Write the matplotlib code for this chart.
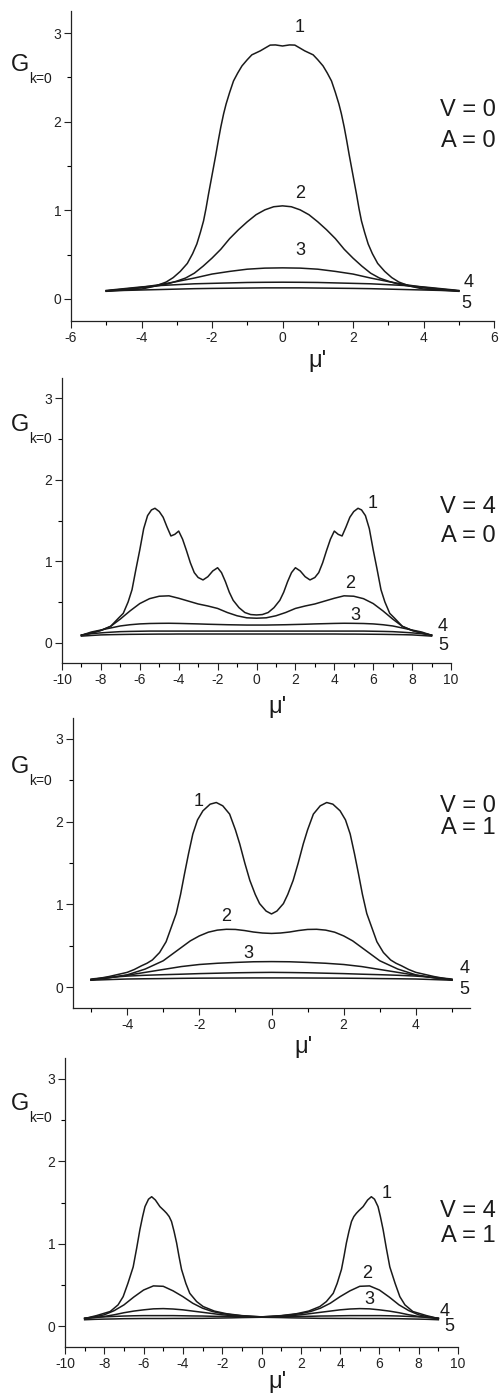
import numpy as np
import matplotlib
matplotlib.use("Agg")
import matplotlib.pyplot as plt
from matplotlib.ticker import MultipleLocator, FixedLocator

plt.rcParams['font.family'] = ['Liberation Sans', 'DejaVu Sans']

# ---- panel 1: V = 0, A = 0 ----
p1_x1 = [-5, -4.5, -4, -3.6, -3.3, -3.1, -2.9, -2.7, -2.55, -2.43, -2.33, -2.24, -2.17, -2.1, -2.03, -1.96,
         -1.89, -1.82, -1.75, -1.67, -1.6, -1.5, -1.39, -1.27, -1.15, -1.0, -0.87, -0.63, -0.48, -0.35, -0.2,
         0,
         0.2, 0.35, 0.48, 0.63, 0.87, 1.0, 1.15, 1.27, 1.39, 1.5, 1.6, 1.67, 1.75, 1.82, 1.89,
         1.96, 2.03, 2.1, 2.17, 2.24, 2.33, 2.43, 2.55, 2.7, 2.9, 3.1, 3.3, 3.6, 4, 4.5, 5]
p1_c1 = [0.09, 0.10, 0.11, 0.145, 0.19, 0.24, 0.31, 0.40, 0.51, 0.62, 0.75, 0.88, 1.02, 1.18, 1.33, 1.48,
         1.63, 1.79, 1.94, 2.09, 2.20, 2.33, 2.46, 2.55, 2.63, 2.70, 2.755, 2.80, 2.835, 2.865, 2.867,
         2.855,
         2.867, 2.865, 2.835, 2.80, 2.755, 2.70, 2.63, 2.55, 2.46, 2.33, 2.20, 2.09, 1.94, 1.79, 1.63,
         1.48, 1.33, 1.18, 1.02, 0.88, 0.75, 0.62, 0.51, 0.40, 0.31, 0.24, 0.19, 0.145, 0.11, 0.10, 0.09]
p1_x2 = [-5, -4.5, -4, -3.5, -3.25, -3, -2.75, -2.5, -2.25, -2, -1.75, -1.5, -1.25, -1, -0.75, -0.5, -0.25,
         0, 0.25, 0.5, 0.75, 1, 1.25, 1.5, 1.75, 2, 2.25, 2.5, 2.75, 3, 3.25, 3.5, 4, 4.5, 5]
p1_c2 = [0.09, 0.105, 0.125, 0.15, 0.17, 0.20, 0.235, 0.29, 0.37, 0.46, 0.56, 0.68, 0.78, 0.87, 0.95, 1.005, 1.04,
         1.05, 1.04, 1.005, 0.95, 0.87, 0.78, 0.68, 0.56, 0.46, 0.37, 0.29, 0.235, 0.20, 0.17, 0.15, 0.125, 0.105, 0.09]
p1_x = [-5, -4.5, -4, -3.5, -3, -2.5, -2, -1.5, -1, -0.5, 0, 0.5, 1, 1.5, 2, 2.5, 3, 3.5, 4, 4.5, 5]
p1_c3 = [0.09, 0.11, 0.13, 0.16, 0.195, 0.235, 0.28, 0.31, 0.335, 0.347, 0.35, 0.347, 0.335, 0.31, 0.28, 0.235, 0.195, 0.16, 0.13, 0.11, 0.09]
p1_c4 = [0.095, 0.115, 0.135, 0.15, 0.16, 0.17, 0.175, 0.18, 0.185, 0.187, 0.188, 0.187, 0.185, 0.18, 0.175, 0.17, 0.16, 0.15, 0.135, 0.115, 0.095]
p1_c5 = [0.085, 0.095, 0.10, 0.105, 0.11, 0.115, 0.118, 0.12, 0.122, 0.124, 0.124, 0.124, 0.122, 0.12, 0.118, 0.115, 0.11, 0.105, 0.10, 0.095, 0.085]

# ---- panel 2: V = 4, A = 0 ----
p2_x1 = [-9, -8.5, -8, -7.5, -7.1, -6.85, -6.6, -6.4, -6.2, -6.0, -5.8, -5.6, -5.4, -5.22, -5.0, -4.8, -4.6, -4.4, -4.2, -4.0,
         -3.8, -3.6, -3.4, -3.2, -3.0, -2.75, -2.5, -2.25, -2.0, -1.8, -1.6, -1.4, -1.2, -0.9, -0.6, -0.3,
         0, 0.3, 0.6, 0.9, 1.2, 1.4, 1.6, 1.8, 2.0, 2.25, 2.5, 2.75, 3.0, 3.2, 3.4, 3.6, 3.8,
         4.0, 4.2, 4.4, 4.6, 4.8, 5.0, 5.22, 5.4, 5.6, 5.8, 6.0, 6.2, 6.4, 6.6, 6.85, 7.1, 7.5, 8, 8.5, 9]
p2_c1 = [0.09, 0.12, 0.15, 0.20, 0.30, 0.36, 0.50, 0.65, 0.90, 1.14, 1.40, 1.56, 1.63, 1.65, 1.61, 1.54, 1.42, 1.31, 1.33, 1.37,
         1.27, 1.13, 0.98, 0.86, 0.80, 0.77, 0.81, 0.88, 0.92, 0.86, 0.75, 0.62, 0.52, 0.43, 0.37, 0.345,
         0.34, 0.345, 0.37, 0.43, 0.52, 0.62, 0.75, 0.86, 0.92, 0.88, 0.81, 0.77, 0.80, 0.86, 0.98, 1.13, 1.27,
         1.37, 1.33, 1.31, 1.42, 1.54, 1.61, 1.65, 1.63, 1.56, 1.40, 1.14, 0.90, 0.65, 0.50, 0.36, 0.30, 0.20, 0.15, 0.12, 0.09]
p2_x = [-9, -8.5, -8, -7.5, -7, -6.5, -6, -5.5, -5, -4.5, -4, -3.5, -3, -2.5, -2, -1.5, -1, -0.5,
        0, 0.5, 1, 1.5, 2, 2.5, 3, 3.5, 4, 4.5, 5, 5.5, 6, 6.5, 7, 7.5, 8, 8.5, 9]
p2_c2 = [0.09, 0.115, 0.15, 0.20, 0.29, 0.39, 0.48, 0.54, 0.57, 0.575, 0.545, 0.51, 0.475, 0.45, 0.42, 0.37, 0.33, 0.305,
         0.30, 0.305, 0.33, 0.37, 0.42, 0.45, 0.475, 0.51, 0.545, 0.575, 0.57, 0.54, 0.48, 0.39, 0.29, 0.20, 0.15, 0.115, 0.09]
p2_c3 = [0.09, 0.13, 0.155, 0.18, 0.205, 0.22, 0.23, 0.235, 0.237, 0.238, 0.236, 0.233, 0.23, 0.226, 0.223, 0.22, 0.218, 0.216,
         0.216, 0.216, 0.218, 0.22, 0.223, 0.226, 0.23, 0.233, 0.236, 0.238, 0.237, 0.235, 0.23, 0.22, 0.205, 0.18, 0.155, 0.13, 0.09]
p2_c4 = [0.095, 0.11, 0.12, 0.128, 0.135, 0.138, 0.14, 0.142, 0.142, 0.142, 0.142, 0.142, 0.142, 0.142, 0.142, 0.142, 0.142, 0.142,
         0.142, 0.142, 0.142, 0.142, 0.142, 0.142, 0.142, 0.142, 0.142, 0.142, 0.142, 0.142, 0.14, 0.138, 0.135, 0.128, 0.12, 0.11, 0.095]
p2_c5 = [0.08, 0.088, 0.095, 0.098, 0.10, 0.102, 0.103, 0.104, 0.105, 0.105, 0.106, 0.106, 0.106, 0.106, 0.106, 0.106, 0.106, 0.106,
         0.106, 0.106, 0.106, 0.106, 0.106, 0.106, 0.106, 0.106, 0.106, 0.105, 0.105, 0.104, 0.103, 0.102, 0.10, 0.098, 0.095, 0.088, 0.08]

# ---- panel 3: V = 0, A = 1 ----
p3_x1 = [-5.0, -4.5, -4.0, -3.8, -3.6, -3.45, -3.3, -3.1, -2.92, -2.78, -2.64, -2.52, -2.41, -2.3, -2.18, -2.05, -1.9,
         -1.7, -1.53, -1.35, -1.16, -1.0, -0.88, -0.74, -0.6, -0.45, -0.33, -0.15,
         0,
         0.15, 0.33, 0.45, 0.6, 0.74, 0.88, 1.0, 1.16, 1.35, 1.53, 1.7,
         1.9, 2.05, 2.18, 2.3, 2.41, 2.52, 2.64, 2.78, 2.92, 3.1, 3.3, 3.45, 3.6, 3.8, 4.0, 4.5, 5.0]
p3_c1 = [0.09, 0.13, 0.18, 0.215, 0.26, 0.29, 0.33, 0.42, 0.55, 0.72, 0.89, 1.12, 1.37, 1.61, 1.85, 2.02, 2.13,
         2.21, 2.23, 2.19, 2.09, 1.90, 1.73, 1.50, 1.29, 1.12, 1.01, 0.92,
         0.885,
         0.92, 1.01, 1.12, 1.29, 1.50, 1.73, 1.90, 2.09, 2.19, 2.23, 2.21,
         2.13, 2.02, 1.85, 1.61, 1.37, 1.12, 0.89, 0.72, 0.55, 0.42, 0.33, 0.29, 0.26, 0.215, 0.18, 0.13, 0.09]
p3_x2 = [-5, -4.5, -4, -3.5, -3.25, -3, -2.75, -2.5, -2.25, -2, -1.75, -1.5, -1.25, -1, -0.75, -0.5, -0.25,
         0, 0.25, 0.5, 0.75, 1, 1.25, 1.5, 1.75, 2, 2.25, 2.5, 2.75, 3, 3.25, 3.5, 4, 4.5, 5]
p3_c2 = [0.09, 0.115, 0.15, 0.22, 0.27, 0.32, 0.40, 0.48, 0.56, 0.62, 0.665, 0.69, 0.70, 0.698, 0.685, 0.667, 0.655,
         0.65, 0.655, 0.667, 0.685, 0.698, 0.70, 0.69, 0.665, 0.62, 0.56, 0.48, 0.40, 0.32, 0.27, 0.22, 0.15, 0.115, 0.09]
p3_x = [-5, -4.5, -4, -3.5, -3, -2.5, -2, -1.5, -1, -0.5, 0, 0.5, 1, 1.5, 2, 2.5, 3, 3.5, 4, 4.5, 5]
p3_c3 = [0.09, 0.115, 0.145, 0.18, 0.215, 0.25, 0.275, 0.29, 0.30, 0.308, 0.31, 0.308, 0.30, 0.29, 0.275, 0.25, 0.215, 0.18, 0.145, 0.115, 0.09]
p3_c4 = [0.10, 0.12, 0.135, 0.145, 0.152, 0.158, 0.165, 0.17, 0.175, 0.178, 0.18, 0.178, 0.175, 0.17, 0.165, 0.158, 0.152, 0.145, 0.135, 0.12, 0.10]
p3_c5 = [0.085, 0.093, 0.10, 0.103, 0.105, 0.108, 0.11, 0.111, 0.112, 0.113, 0.113, 0.113, 0.112, 0.111, 0.11, 0.108, 0.105, 0.103, 0.10, 0.093, 0.085]

# ---- panel 4: V = 4, A = 1 ----
p4_x1 = [-9.0, -8.4, -7.7, -7.3, -7.04, -6.8, -6.53, -6.35, -6.19, -6.05, -5.93, -5.75, -5.59, -5.4, -5.17, -4.95, -4.83,
         -4.7, -4.58, -4.45, -4.32, -4.2, -4.07, -3.85, -3.65, -3.3, -2.97, -2.4, -1.78, -1.0,
         0, 1.0, 1.78, 2.4, 2.97, 3.3, 3.65, 3.85, 4.07, 4.2, 4.32, 4.45, 4.58, 4.7,
         4.83, 4.95, 5.17, 5.4, 5.59, 5.75, 5.93, 6.05, 6.19, 6.35, 6.53, 6.8, 7.04, 7.3, 7.7, 8.4, 9.0]
p4_c1 = [0.095, 0.13, 0.18, 0.26, 0.36, 0.52, 0.72, 0.95, 1.17, 1.33, 1.45, 1.54, 1.57, 1.53, 1.45, 1.40, 1.37,
         1.33, 1.27, 1.15, 1.01, 0.85, 0.69, 0.52, 0.40, 0.30, 0.24, 0.185, 0.153, 0.13,
         0.115, 0.13, 0.153, 0.185, 0.24, 0.30, 0.40, 0.52, 0.69, 0.85, 1.01, 1.15, 1.27, 1.33,
         1.37, 1.40, 1.45, 1.53, 1.57, 1.54, 1.45, 1.33, 1.17, 0.95, 0.72, 0.52, 0.36, 0.26, 0.18, 0.13, 0.095]
p4_x = [-9, -8.5, -8, -7.5, -7, -6.5, -6, -5.5, -5, -4.5, -4, -3.5, -3, -2.5, -2, -1.5, -1, -0.5,
        0, 0.5, 1, 1.5, 2, 2.5, 3, 3.5, 4, 4.5, 5, 5.5, 6, 6.5, 7, 7.5, 8, 8.5, 9]
p4_c2 = [0.095, 0.115, 0.14, 0.19, 0.26, 0.355, 0.44, 0.49, 0.485, 0.43, 0.36, 0.28, 0.22, 0.18, 0.155, 0.14, 0.128, 0.12,
         0.115, 0.12, 0.128, 0.14, 0.155, 0.18, 0.22, 0.28, 0.36, 0.43, 0.485, 0.49, 0.44, 0.355, 0.26, 0.19, 0.14, 0.115, 0.095]
p4_c3 = [0.095, 0.105, 0.12, 0.14, 0.165, 0.185, 0.20, 0.212, 0.215, 0.21, 0.20, 0.185, 0.17, 0.155, 0.14, 0.13, 0.122, 0.117,
         0.115, 0.117, 0.122, 0.13, 0.14, 0.155, 0.17, 0.185, 0.20, 0.21, 0.215, 0.212, 0.20, 0.185, 0.165, 0.14, 0.12, 0.105, 0.095]
p4_c4 = [0.10, 0.11, 0.115, 0.12, 0.125, 0.128, 0.13, 0.13, 0.13, 0.13, 0.128, 0.126, 0.125, 0.122, 0.12, 0.118, 0.116, 0.115,
         0.115, 0.115, 0.116, 0.118, 0.12, 0.122, 0.125, 0.126, 0.128, 0.13, 0.13, 0.13, 0.13, 0.128, 0.125, 0.12, 0.115, 0.11, 0.10]
p4_c5 = [0.08, 0.085, 0.088, 0.09, 0.093, 0.094, 0.095, 0.095, 0.095, 0.096, 0.096, 0.097, 0.097, 0.099, 0.101, 0.103, 0.106, 0.108,
         0.11, 0.108, 0.106, 0.103, 0.101, 0.099, 0.097, 0.097, 0.096, 0.096, 0.095, 0.095, 0.095, 0.094, 0.093, 0.09, 0.088, 0.085, 0.08]

params = [("V = 0", "A = 0"), ("V = 4", "A = 0"), ("V = 0", "A = 1"), ("V = 4", "A = 1")]
curve_ids = ["1", "2", "3", "4", "5"]

panels = [
    [(p1_x1, p1_c1), (p1_x2, p1_c2), (p1_x, p1_c3), (p1_x, p1_c4), (p1_x, p1_c5)],
    [(p2_x1, p2_c1), (p2_x, p2_c2), (p2_x, p2_c3), (p2_x, p2_c4), (p2_x, p2_c5)],
    [(p3_x1, p3_c1), (p3_x2, p3_c2), (p3_x, p3_c3), (p3_x, p3_c4), (p3_x, p3_c5)],
    [(p4_x1, p4_c1), (p4_x, p4_c2), (p4_x, p4_c3), (p4_x, p4_c4), (p4_x, p4_c5)],
]

W, H = 500, 1394
fig = plt.figure(figsize=(W / 100, H / 100), dpi=100)

def fx(px):
    return px / W

def fy(py):
    return 1 - py / H

# axes boxes in pixels: left, top, right, bottom
boxes = [(71, 11, 494, 321), (62, 378, 451, 663), (73, 718, 470, 1008), (65, 1058, 458, 1347)]
xlims = [(-6, 6), (-10, 10), (-5.5, 5.5), (-10, 10)]
xmajor = [np.arange(-6, 7, 2), np.arange(-10, 11, 2), np.arange(-4, 5, 2), np.arange(-10, 11, 2)]
xminor = [np.arange(-5, 6, 2), np.arange(-9, 10, 2), np.arange(-5, 6, 2), np.arange(-9, 10, 2)]

# curve number label positions (data coords)
lab_pos = [
    [(0.5, 3.06), (0.5, 1.19), (0.5, 0.545), (5.28, 0.19), (5.21, -0.056)],
    [(5.99, 1.71), (4.79, 0.726), (5.1, 0.338), (9.55, 0.204), (9.59, -0.04)],
    [(-2.01, 2.24), (-1.25, 0.85), (-0.65, 0.41), (5.34, 0.23), (5.34, -0.03)],
    [(6.36, 1.61), (5.39, 0.64), (5.51, 0.32), (9.32, 0.18), (9.54, 0.0)],
]
# text positions in pixels
va_y = [(110, 141), (507, 536), (806, 828), (1211, 1236)]
g_y = [65, 425, 767, 1104]
mu_xy = [(318, 361), (277, 707), (303, 1047), (278, 1382)]

lc = '#1a1a1a'
for i, (l, t, r, b) in enumerate(boxes):
    ax = fig.add_axes([fx(l), fy(b), fx(r - l), (b - t) / H])
    for xs, ys in panels[i]:
        ax.plot(xs, ys, color=lc, lw=1.1, solid_joinstyle='round')
    ax.set_xlim(*xlims[i])
    ax.set_ylim(-0.25, 3.25)
    ax.xaxis.set_major_locator(FixedLocator(xmajor[i]))
    ax.xaxis.set_minor_locator(FixedLocator(xminor[i]))
    ax.yaxis.set_major_locator(MultipleLocator(1))
    ax.yaxis.set_minor_locator(FixedLocator([0.5, 1.5, 2.5]))
    ax.set_xticklabels([f"{v:g}" for v in xmajor[i]])
    for s in ['top', 'right']:
        ax.spines[s].set_visible(False)
    for s in ['left', 'bottom']:
        ax.spines[s].set_linewidth(0.9)
        ax.spines[s].set_color('#222222')
    ax.tick_params(which='major', direction='out', length=5, width=0.8, labelsize=10, pad=2, colors='#222222')
    ax.tick_params(which='minor', direction='out', length=3, width=0.8)
    for k, (lx, ly) in enumerate(lab_pos[i]):
        ax.text(lx, ly, curve_ids[k], fontsize=13, ha='center', va='center', color=lc)

    fig.text(fx(496), fy(va_y[i][0]), params[i][0], fontsize=17, ha='right', va='center', color=lc)
    fig.text(fx(496), fy(va_y[i][1]), params[i][1], fontsize=17, ha='right', va='center', color=lc)
    fig.text(fx(11), fy(g_y[i]), "G", fontsize=17, ha='left', va='center', color=lc)
    fig.text(fx(29), fy(g_y[i] + 14), "k=0", fontsize=10, ha='left', va='center', color=lc)
    fig.text(fx(mu_xy[i][0]), fy(mu_xy[i][1]), "\u03bc'", fontsize=17, ha='center', va='center', color=lc)

fig.savefig("out.png", dpi=100)
